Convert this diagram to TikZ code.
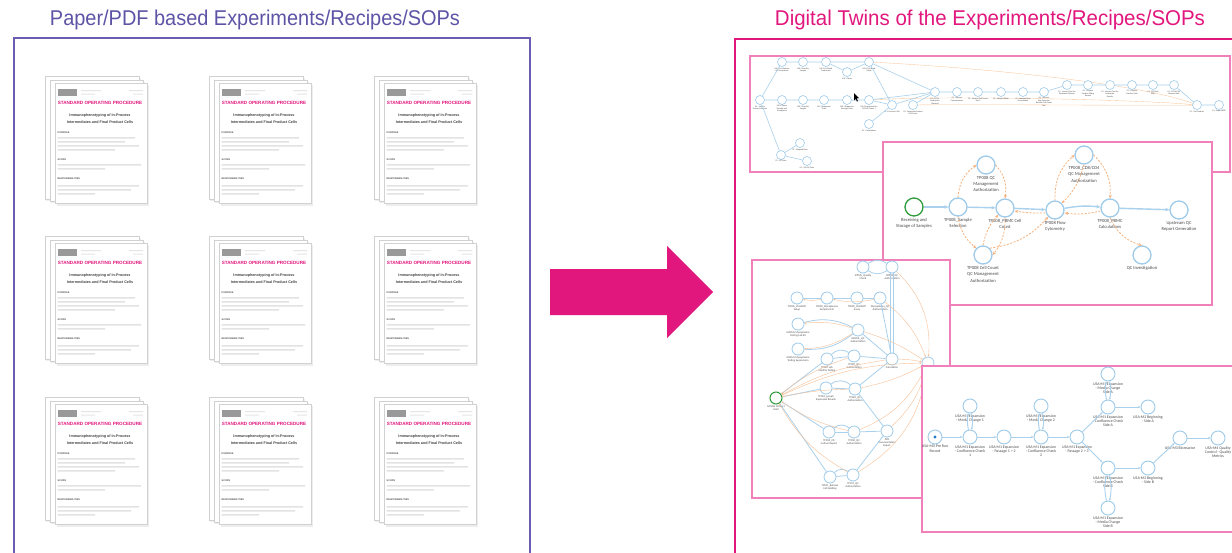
\documentclass[tikz,border=0pt]{standalone}
\usepackage{fontspec}
\setmainfont{Liberation Sans}
\newfontfamily\carl{Carlito}
\usetikzlibrary{arrows.meta}
\definecolor{tpurple}{HTML}{5D54A6}
\definecolor{bpurple}{HTML}{6B5DB3}
\definecolor{mag}{HTML}{E2177E}
\definecolor{pinkl}{HTML}{F080BA}
\definecolor{nblue}{HTML}{9ECBEA}
\definecolor{eblue}{HTML}{A9D0EC}
\definecolor{orng}{HTML}{F5B07A}
\definecolor{grn}{HTML}{2E9B3A}
\definecolor{labg}{HTML}{4A4A4A}
\definecolor{dotb}{HTML}{1F78C8}
\newcommand\gn[4]{\node[#1node] (#2) at (#3) {}; \node[#1lab] (#2t) at (#2.south) {#4};}
\newcommand\docstack[3]{%
\begin{scope}[shift={(#2,#3)}]
\fill[pgshadow] (-9,-5) rectangle (86,118);
\draw[pg] (-10,-7) rectangle (84,116);
\fill[pgshadow] (-4,-1) rectangle (90,120);
\draw[pg] (-5,-3) rectangle (88,118);
\fill[pgshadow] (1.5,2) rectangle (94,122.5);
\draw[pg] (0,0) rectangle (92,120);
\fill[black!40] (3,6) rectangle (22,13);
\fill[black!10] (26,7) rectangle (46,8.2) (26,10.5) rectangle (40,11.7) (74,7) rectangle (88,8.2) (78,10.5) rectangle (88,11.7);
\node[soptxt] (#1s) at (45,20) {STANDARD OPERATING PROCEDURE};
\node[ttl] (#1t) at (45,35.5) {Immunophenotyping of In-Process\\Intermediates and Final Product Cells};
\node[sec] (#1p) at (2.5,50) {PURPOSE};
\fill[bar] (2.5,54) rectangle (80,55.5) (2.5,58) rectangle (70,59.5) (2.5,62) rectangle (84,63.5) (2.5,66) rectangle (60,67.5);
\node[sec] (#1c) at (2.5,77) {SCOPE};
\fill[bar] (2.5,81) rectangle (86,82.5) (2.5,85) rectangle (50,86.5);
\node[sec] (#1r) at (2.5,96) {RESPONSIBILITIES};
\fill[bar] (2.5,102) rectangle (84,103.5) (2.5,106) rectangle (76,107.5) (2.5,110) rectangle (40,111.5);
\end{scope}}
\begin{document}
\begin{tikzpicture}[x=1pt,y=-1pt,
 pg/.style={draw=black!18,fill=white,line width=0.5pt},
 pgshadow/.style={fill=black!7},
 bar/.style={fill=black!11},
 soptxt/.style={font=\bfseries\fontsize{4.6}{5}\selectfont,text=mag,inner sep=0pt},
 ttl/.style={font=\bfseries\fontsize{3.7}{7.5}\selectfont,text=black!75,align=center,inner sep=0pt},
 sec/.style={anchor=west,font=\bfseries\fontsize{2.4}{3}\selectfont,text=black!70,inner sep=0pt},
 panel/.style={draw=pinkl,fill=white,line width=1.2pt},
 Anode/.style={circle,draw=nblue,fill=white,line width=0.6pt,minimum size=9pt,inner sep=0pt},
 Alab/.style={anchor=north,font=\carl\fontsize{2.1}{2.5}\selectfont,text=labg,align=center,inner sep=0.6pt},
 Bnode/.style={circle,draw=nblue,fill=white,line width=1.3pt,minimum size=18pt,inner sep=0pt},
 BGnode/.style={Bnode,draw=grn},
 Blab/.style={anchor=north,font=\carl\fontsize{4.6}{6.4}\selectfont,text=labg,align=center,inner sep=1.2pt},
 BGlab/.style={Blab},
 Cnode/.style={circle,draw=nblue,fill=white,line width=0.8pt,minimum size=12pt,inner sep=0pt},
 CGnode/.style={Cnode,draw=grn,line width=1pt},
 Clab/.style={anchor=north,font=\carl\fontsize{2.7}{3.3}\selectfont,text=labg,align=center,inner sep=0.8pt},
 CGlab/.style={Clab},
 Dnode/.style={circle,draw=nblue,fill=white,line width=0.9pt,minimum size=14pt,inner sep=0pt},
 Dlab/.style={anchor=north,font=\carl\fontsize{3.9}{4.4}\selectfont,text=labg,align=center,inner sep=0.8pt},
 Aedge/.style={draw=eblue,line width=0.6pt},
 Aorng/.style={draw=orng!75,line width=0.35pt},
 Bedge/.style={draw=eblue,line width=1.4pt,-{Stealth[length=4pt,width=3.5pt]}},
 Bdash/.style={draw=orng,line width=0.8pt,dash pattern=on 2pt off 1.5pt,-{Stealth[length=3.5pt,width=3pt]}},
 Cedge/.style={draw=eblue,line width=0.8pt},
 Corng/.style={draw=orng!80,line width=0.4pt,-{Stealth[length=2pt,width=1.8pt]}},
 Dedge/.style={draw=eblue,line width=0.9pt,-{Stealth[length=2.5pt,width=2.2pt]}}
]
\useasboundingbox (0,0) rectangle (1232,552);
\fill[white] (0,0) rectangle (1232,552);

% ---------- titles and frames ----------
\node[text=tpurple,anchor=base,inner sep=0pt] (lt) at (255,25) {\resizebox{410pt}{15.5pt}{Paper/PDF based Experiments/Recipes/SOPs}};
\node[text=mag,anchor=base,inner sep=0pt] (rt) at (990,25) {\resizebox{430pt}{15.5pt}{Digital Twins of the Experiments/Recipes/SOPs}};
\draw[bpurple,line width=2pt] (14,560) -- (14,38) -- (530,38) -- (530,560);
\draw[mag,line width=2.5pt] (735,560) -- (735,39) -- (1245,39);

% ---------- document stacks ----------
\docstack{s1}{55}{83}
\docstack{s2}{219}{83}
\docstack{s3}{384}{83}
\docstack{s4}{55}{243}
\docstack{s5}{219}{243}
\docstack{s6}{384}{243}
\docstack{s7}{55}{404}
\docstack{s8}{219}{404}
\docstack{s9}{384}{404}

% ---------- big arrow ----------
\fill[mag] (550,269) -- (667,269) -- (667,246) -- (713,292) -- (667,338) -- (667,315) -- (550,315) -- cycle;

% ---------- panel A ----------
\draw[panel] (750,56) rectangle (1230,172);
\draw[Aorng] (869,62) .. controls (990,68) and (1150,85) .. (1197,105);
\draw[Aorng] (869,100) .. controls (950,95) and (1150,100) .. (1197,105);
\draw[Aorng] (913,105) .. controls (990,104) and (1150,106) .. (1197,105);
\gn{A}{a1}{760,100}{01 - Initiate\\Product Lifecycle}
\gn{A}{a2}{782,62}{M0.1 Pre-Release\\QA Acceptance}
\gn{A}{a3}{803,62}{M0.1 Sterility\\Sample}
\gn{A}{a4}{826,62}{M0.1 Cell Seed\\Production}
\gn{A}{a5}{847,72}{M0.1 Thaw}
\gn{A}{a6}{869,62}{M0.1 Cell Bank\\Made}
\gn{A}{a7}{782,100}{M0.1 Donor\\Receipt and\\Acceptance}
\gn{A}{a8}{803,100}{M0.1 Sterility\\Sample}
\gn{A}{a9}{824,100}{M1.1 Expansion\\Thaw}
\gn{A}{a10}{847,100}{M0.1 Expansion\\Passage Thaw}
\gn{A}{a11}{869,100}{M0.1 Expansion Pre\\Fill Cell Count 1}
\gn{A}{a12}{892,105}{01-1 Process Cells}
\gn{A}{a13}{913,105}{01 - Expansion Pooled\\Cell Count}
\gn{A}{a14}{869,124}{01 - Calculations}
\gn{A}{a15}{935,92}{01 - Fill To\\Production\\Material}
\gn{A}{a16}{957,92}{01 - Harvest\\Concentration}
\gn{A}{a17}{978,92}{01 - Harvest Cell Count\\Test 1}
\gn{A}{a18}{1001,92}{01 - Harvest Wash}
\gn{A}{a19}{1023,92}{01 - Harvest Final\\Formulation}
\gn{A}{a20}{1044,92}{01 - Harvest\\Bag Selection\\Release Cell Count\\Test}
\gn{A}{a21}{1067,85}{01 - Harvest Test for\\Endotoxin Release}
\gn{A}{a22}{1088,85}{01 - Prepare\\Product Filling\\Record}
\gn{A}{a23}{1110,85}{01 - Harvest Test for\\Endotoxin\\Results}
\gn{A}{a24}{1132,85}{01 - Prepare\\Product Vials}
\gn{A}{a25}{1153,85}{01 - Fill Final\\Vials}
\gn{A}{a26}{1174,85}{01 - Fill QA/QC\\Release Vials}
\gn{A}{a27}{1197,105}{01 - Vial Product}
\gn{A}{a28}{1219,105}{01 - Export BPR}
\gn{A}{a29}{781,155}{01 - QC Data}
\gn{A}{a30}{800,143}{TP - Mapped Data}
\gn{A}{a31}{807,161}{01 - QA/QC Data}
\draw[Aedge] (a1) -- (a2) -- (a3) -- (a4) -- (a6);
\draw[Aedge] (a4) -- (a5) -- (a6);
\draw[Aedge] (a6) -- (a12);
\draw[Aedge] (a6) -- (a15);
\draw[Aedge] (a1) -- (a7) -- (a8) -- (a9) -- (a10) -- (a11) -- (a12);
\draw[Aedge] (a11) -- (a15);
\draw[Aedge] (a12) -- (a15);
\draw[Aedge] (a12) -- (a14);
\draw[Aedge] (a13) -- (a15);
\draw[Aedge] (a15) -- (a16) -- (a17) -- (a18) -- (a19) -- (a20) -- (a21) -- (a22) -- (a23) -- (a24) -- (a25) -- (a26) -- (a27) -- (a28);
\draw[Aedge] (a1) -- (a29);
\draw[Aedge] (a29) -- (a30);
\draw[Aedge] (a29) -- (a31);
\fill[black] (854,93) -- (854,100.5) -- (855.7,98.8) -- (857,101.6) -- (858,101.1) -- (856.7,98.4) -- (859,98.2) -- cycle;

% ---------- panel B ----------
\draw[panel] (883,142) rectangle (1212,305);
\gn{BG}{b1}{914,207}{Receiving and\\Storage of Samples}
\gn{B}{b2}{958,207}{TP008\_Sample\\Selection}
\gn{B}{b3}{986,165}{TP008 QC\\Management\\Authorization}
\gn{B}{b4}{1005,208}{TP008\_PBMC Cell\\Count}
\gn{B}{b5}{983,255}{TP008 Cell Count\\QC Management\\Authorization}
\gn{B}{b6}{1055,210}{TP008 Flow\\Cytometry}
\gn{B}{b7}{1084,155}{TP008\_CD8/CD4\\QC Management\\Authorization}
\gn{B}{b8}{1110,208}{TP008\_PBMC\\Calculations}
\gn{B}{b9}{1179,210}{Upstream QC\\Report Generation}
\gn{B}{b10}{1142,255}{QC Investigation}
\draw[Bedge] (b1) -- (b2);
\draw[Bedge] (b2) -- (b4);
\draw[Bedge] (b4) -- (b6);
\draw[Bedge] (b6) to[bend left=8] (b8);
\draw[Bedge] (b8) -- (b9);
\draw[Bdash] (b2.north) to[bend left=25] (b3.west);
\draw[Bdash] (b3.east) to[bend left=25] (b4.north);
\draw[Bdash] (b2.south) to[bend right=20] (b5.north west);
\draw[Bdash] (b5.north) to[bend left=15] (b4.south west);
\draw[Bdash] (b4.south) to[bend left=20] (b5.east);
\draw[Bdash] (b5.north east) to[bend right=20] (b6.south west);
\draw[Bdash] ([yshift=-3pt]b6.west) to[bend left=5] ([yshift=-3pt]b4.east);
\draw[Bdash] (b6.north) to[bend left=25] (b7.west);
\draw[Bdash] (b7.south) to[bend left=15] (b6.north east);
\draw[Bdash] (b7.east) to[bend left=25] (b8.north);
\draw[Bdash] ([yshift=-3pt]b8.west) to[bend left=10] ([yshift=-3pt]b6.east);
\draw[Bdash] (b8.south) to[bend right=25] (b10.north);

% ---------- panel C ----------
\draw[panel] (752,260) rectangle (950,498);
\gn{C}{c1}{863,267}{ICPMS\_Quality\\Check}
\gn{C}{c2}{892,267}{ICPMS\_QC\\Authorization}
\gn{C}{c3}{797,298}{TP005\_ViralMAT\\Setup}
\gn{C}{c4}{827,298}{TP005\_Mycoplasma\\Samples N.D.}
\gn{C}{c5}{857,298}{TP005\_ViralMAT\\Assay}
\gn{C}{c6}{880,298}{Mycoplasma\_QC\\Authorization}
\gn{C}{c7}{798,324}{GCNML Mycoplasma\\Testing Lab Kit}
\gn{C}{c8}{858,330}{GCNML\_QC\\Authorization}
\gn{C}{c9}{798,349}{GCNML Mycoplasma\\Testing Supervision}
\gn{C}{c10}{827,359}{TP007 Lab\\Sterility Testing}
\gn{C}{c11}{854,356}{TP007\_QC\\Authorization}
\gn{C}{c12}{892,359}{Calculation}
\gn{CG}{g}{776,398}{GCNML Product\\Hold}
\gn{C}{c13}{826,388}{TP001\_Lymph\\Expansion Results}
\gn{C}{c14}{855,389}{TP001\_QC\\Authorization}
\gn{C}{c15}{829,432}{TP010\_CD\\Culture Report}
\gn{C}{c16}{854,432}{TP010\_QC\\Authorization}
\gn{C}{c17}{887,431}{PCD\\Documentation\\Export}
\gn{C}{c18}{830,477}{TP011\_Release\\Cell Holding}
\gn{C}{c19}{853,475}{TP011\_QC\\Authorization}
\node[Cnode] (hub) at (928,363) {};
\draw[Cedge] (c1) to[bend left=35] (c2);
\draw[Cedge] (c1) to[bend right=35] (c2);
\draw[Cedge] ([xshift=-1.5pt]c2.south) -- ([xshift=-1.5pt]c12.north);
\draw[Cedge] ([xshift=1.5pt]c2.south) -- ([xshift=1.5pt]c12.north);
\draw[Cedge] (c3) -- (c4) -- (c5) -- (c6);
\draw[Cedge] (c6) -- (c12);
\draw[Cedge] (c8) to[bend right=20] (c7);
\draw[Cedge] (c8) to[bend left=20] (c9);
\draw[Cedge] (c8) -- (c12);
\draw[Cedge] (c10) to[bend left=40] (c11);
\draw[Cedge] (c10) -- (c11);
\draw[Cedge] (c11) -- (c12);
\draw[Cedge] (g) -- (c10);
\draw[Cedge] (g) -- (c13);
\draw[Cedge] (g) -- (c15);
\draw[Cedge] (g) -- (c18);
\draw[Cedge] (c13) to[bend left=40] (c14);
\draw[Cedge] (c13) -- (c14);
\draw[Cedge] (c14) -- (c12);
\draw[Cedge] (c14) -- (c17);
\draw[Cedge] (c15) to[bend left=40] (c16);
\draw[Cedge] (c15) -- (c16);
\draw[Cedge] (c16) -- (c17);
\draw[Cedge] (c17) -- (c19);
\draw[Cedge] (c18) to[bend left=40] (c19);
\draw[Cedge] (c18) -- (c19);
\draw[Corng] (c2) to[bend left=25] (hub);
\draw[Corng] (c6) to[bend left=15] (hub);
\draw[Corng] (c8) to[bend left=8] (hub);
\draw[Corng] (c12) to[bend left=5] (hub);
\draw[Corng] (c14) to[bend right=8] (hub);
\draw[Corng] (c17) to[bend right=15] (hub);
\draw[Corng] (c16) to[bend right=20] (hub);
\draw[Corng] (c19) to[bend right=25] (hub);
\draw[Corng] (g) to[bend left=12] (hub);
\draw[Corng] (c12) to[bend right=10] (g);
\draw[Corng] (c11) to[bend right=10] (g);
\draw[Corng] (c14) to[bend right=5] (g);
\draw[Corng] (c16) to[bend left=10] (g);
\draw[Corng] (c19) to[bend left=15] (g);
\draw[Corng] (c4) to[bend left=12] (c3);
\draw[Corng] (c6) to[bend left=12] (c4);
\draw[Corng] (c8) to[bend left=15] (c9);
\draw[Corng] (c8) to[bend right=12] (c7);

% ---------- panel D ----------
\draw[panel] (922,366) rectangle (1240,532);
\gn{D}{d1}{935,437}{USA-M0 Pre Run\\Record}
\fill[dotb] (d1) circle (1.6);
\gn{D}{d2}{970,437}{USA-M1 Expansion\\- Confluence Check\\1}
\gn{D}{d2u}{970,406}{USA-M1 Expansion\\- Media Change 1}
\gn{D}{d3}{1004,437}{USA-M1 Expansion\\- Passage 1 > 2}
\gn{D}{d4}{1041,437}{USA-M1 Expansion\\- Confluence Check\\2}
\gn{D}{d4u}{1041,406}{USA-M1 Expansion\\- Media Change 2}
\gn{D}{d5}{1077,437}{USA-M1 Expansion\\- Passage 2 > 3}
\gn{D}{d6}{1108,407}{USA-M1 Expansion\\- Confluence Check\\Side A}
\gn{D}{d6u}{1108,374}{USA-M1 Expansion\\- Media Change\\Side A}
\gn{D}{d7}{1148,407}{USA-M2 Beginning\\- Side A}
\gn{D}{d8}{1108,468}{USA-M1 Expansion\\- Confluence Check\\Side B}
\gn{D}{d8d}{1108,508}{USA-M1 Expansion\\- Media Change\\Side B}
\gn{D}{d9}{1148,468}{USA-M2 Beginning\\- Side B}
\gn{D}{d10}{1180,438}{USA-M3 Bioreactor}
\gn{D}{d11}{1218,438}{USA-M4 Quality\\Control - Quality\\Metrics}
\draw[Dedge] (d1) -- (d2);
\draw[Dedge] (d2) -- (d3);
\draw[Dedge] (d3) -- (d4);
\draw[Dedge] (d4) -- (d5);
\draw[Dedge] (d2) to[bend left=12] (d2u);
\draw[Dedge] (d2u) to[bend left=12] (d2);
\draw[Dedge] (d4) to[bend left=12] (d4u);
\draw[Dedge] (d4u) to[bend left=12] (d4);
\draw[Dedge] (d5) -- (d6);
\draw[Dedge] (d5) -- (d8);
\draw[Dedge] (d6) to[bend left=12] (d6u);
\draw[Dedge] (d6u) to[bend left=12] (d6);
\draw[Dedge] (d6) -- (d7);
\draw[Dedge] (d8) to[bend left=12] (d8d);
\draw[Dedge] (d8d) to[bend left=12] (d8);
\draw[Dedge] (d8) -- (d9);
\draw[Dedge] (d9) -- (d10);
\draw[Dedge] (d10) -- (d11);
\end{tikzpicture}
\end{document}
